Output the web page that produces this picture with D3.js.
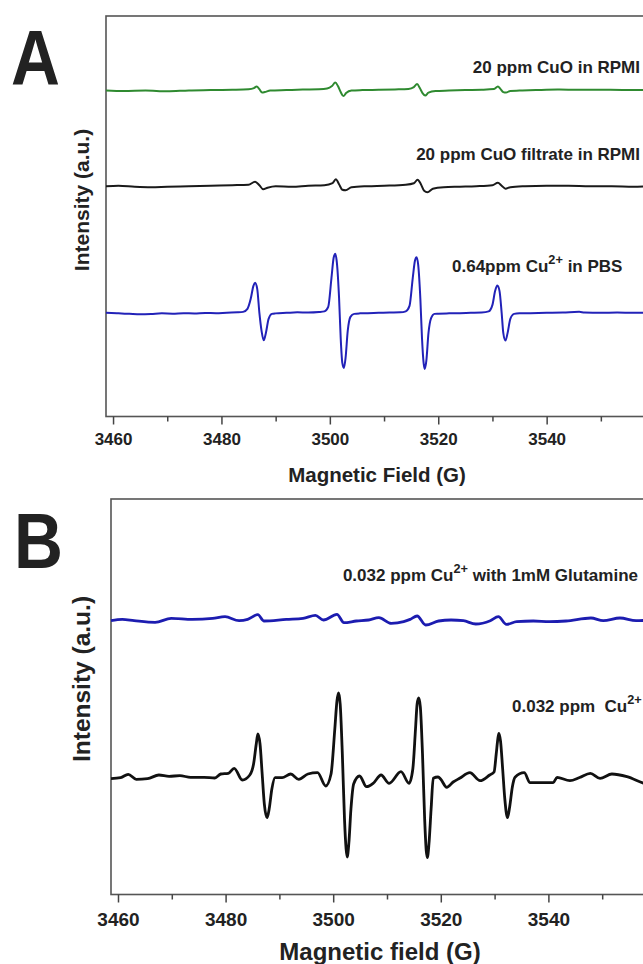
<!DOCTYPE html>
<html>
<head>
<meta charset="utf-8">
<script src="https://cdn.jsdelivr.net/npm/d3@7"></script>
<style>
  html, body { margin: 0; padding: 0; background: #fff; overflow: hidden; }
  text { font-family: "Liberation Sans", Arial, sans-serif; font-weight: bold; fill: #222; }
</style>
</head>
<body>
<script>
// field axis (G)
var fieldDomain = [3458.7, 3558.7];
var majorTicks = [3460, 3480, 3500, 3520, 3540];
var minorTicks = [3470, 3490, 3510, 3530, 3550];

// panel A spectra: [field (G), intensity relative to trace baseline (a.u.)]
var cuoRpmi = [
  [3458.7, -0.5], [3462, -1], [3466, -0.5], [3470, -1.2], [3474, -0.3], [3478, 0], [3482, 0.3],
  [3485, 0.8], [3486, 2], [3486.5, 3.5], [3487, 1], [3487.5, -2.5], [3488, -2], [3489, -0.5],
  [3492, 0], [3495, 0.5], [3498, 0.8], [3499.5, 1.5], [3500.4, 4], [3501, 7.5], [3501.5, 4],
  [3502, -2], [3502.5, -6], [3503, -3], [3504, -0.5], [3506, 0], [3509, 0.3], [3512, 0.7],
  [3514.5, 1.2], [3515.5, 3], [3516.1, 6], [3516.6, 2], [3517.1, -3], [3517.6, -5.5], [3518.2, -2.5],
  [3519.5, -1], [3522, -0.5], [3525, 0], [3528, 0.3], [3530.3, 1], [3531, 3.5], [3531.5, 1],
  [3532, -2], [3532.5, -2.5], [3533.3, -0.8], [3535, -0.5], [3538, 0], [3542, 0.5], [3546, 0.3],
  [3550, 0.3], [3554, 0.2], [3558.7, 0]
];
var cuoFiltrate = [
  [3458.7, 0], [3461, 0.5], [3464, -0.5], [3467, -1], [3470, -0.5], [3474, 0], [3478, 0.5],
  [3482, 1], [3485, 1.5], [3486.2, 4.5], [3487, 1], [3487.7, -3], [3488.5, -1.5], [3490, 0],
  [3493, -0.5], [3496, 0.5], [3499, 1], [3500.5, 3], [3501.1, 7], [3501.7, 2], [3502.3, -3.5],
  [3502.9, -4], [3504, -1], [3507, 0], [3510, 0.5], [3514, 1.5], [3515.5, 3], [3516.2, 6.5],
  [3516.8, 2], [3517.4, -4.5], [3518, -6], [3519, -2.5], [3521, -1], [3524, -0.5], [3527, 0],
  [3530, 1], [3531, 3.5], [3531.7, 0.5], [3532.4, -2.5], [3533.3, -1], [3536, 0], [3540, 0.5],
  [3544, 0.5], [3548, 0], [3552, 0], [3556, -0.5], [3558.7, 0]
];
var cuPbs = [
  [3458.7, 0], [3461, -0.5], [3463, -1], [3465, -1.5], [3467, -1.2], [3469, -0.5], [3471, -0.8],
  [3473, -0.3], [3475, -0.6], [3477, -0.2], [3479, -0.3], [3481, 0.2], [3483, 0.5], [3484, 1],
  [3484.8, 4], [3485.4, 14], [3485.9, 27], [3486.2, 30], [3486.6, 24], [3487.0, 0], [3487.4, -18],
  [3487.8, -27.4], [3488.2, -20], [3488.7, -6], [3489.3, -1], [3490, -0.5], [3492, 0], [3494, 0.5],
  [3496, 0.3], [3498, 0.8], [3499, 1.5], [3499.7, 6], [3500.3, 35], [3500.7, 55], [3501.0, 59],
  [3501.3, 50], [3501.7, 15], [3502.0, -25], [3502.3, -50], [3502.6, -55], [3502.9, -45],
  [3503.3, -18], [3503.8, -4], [3504.5, -1], [3505.5, -0.5], [3507, -0.3], [3509, 0], [3511, 0.3],
  [3513, 0.5], [3514, 1.5], [3514.7, 7], [3515.3, 35], [3515.7, 52], [3516.0, 55.6], [3516.3, 48],
  [3516.7, 14], [3517.0, -25], [3517.3, -50], [3517.5, -56], [3517.8, -48], [3518.2, -20],
  [3518.7, -5], [3519.3, -1], [3520, -0.8], [3522, -0.5], [3524, -0.3], [3526, 0], [3528, 0.3],
  [3529.3, 1.5], [3530, 8], [3530.5, 22], [3530.9, 27.3], [3531.3, 22], [3531.7, 0], [3532.0, -20],
  [3532.4, -27.7], [3532.8, -20], [3533.3, -6], [3534, -1], [3535, -0.5], [3537, -0.3], [3540, 0],
  [3543, 0.3], [3546, 1], [3547, 0.3], [3550, 0], [3553, 0.3], [3556, 0], [3558.7, 0.2]
];

// panel B spectra
var cuGlutamine = [
  [3458.7, 1], [3460.8, 2.3], [3463.0, 1], [3466.9, -0.7], [3469.9, 3.3], [3473.8, 2.3],
  [3477.6, 3.3], [3479.9, 5], [3482.5, 1], [3484.1, 2.3], [3486.0, 7], [3487.1, 0.7], [3491.3, 2.3],
  [3494.4, 3.3], [3496.7, 6.3], [3498.2, 1.7], [3500.7, 7.3], [3502.0, -1], [3504.3, 0.7],
  [3506.6, 1.7], [3508.5, 4], [3510.8, -1.7], [3513.1, 0], [3514.3, 2.3], [3515.6, 5.7],
  [3517.2, -3.3], [3519.6, 0.7], [3521.9, 1.7], [3524.2, 1], [3526.5, -2.3], [3529.2, 1],
  [3530.7, 5], [3532.2, -2.7], [3534.1, 0], [3537.2, 0.7], [3540.2, 0], [3543.3, 0.7],
  [3547.9, 3.7], [3550.2, 1], [3553.3, 3.7], [3556.3, 1], [3558.7, 1.5]
];
var cuLow = [
  [3458.7, 0.3], [3460.5, 1.3], [3461.9, 4.7], [3463.4, -0.3], [3465.5, 0.3], [3467.6, 4],
  [3469.5, 2.7], [3471.5, 3.3], [3473.5, 1.7], [3476, 1.7], [3478, 1], [3479.1, 5], [3480.5, 5.7],
  [3481.6, 10.7], [3483.1, -1], [3484.5, 4], [3485.2, 15], [3485.7, 35], [3486.0, 45], [3486.4, 35],
  [3486.8, 5], [3487.2, -25], [3487.7, -38.7], [3488.1, -30], [3488.6, -10], [3489.2, 1.3],
  [3490.5, 1.3], [3492.1, 5], [3493.6, -0.3], [3495.3, 5], [3497.1, 6.3], [3498.6, -7], [3499.6, 5],
  [3500.3, 50], [3500.7, 78], [3501.0, 86], [3501.3, 75], [3501.7, 25], [3502.1, -40], [3502.4, -70],
  [3502.6, -78], [3502.9, -65], [3503.3, -30], [3503.8, -5], [3504.9, 3], [3506.2, -7.7],
  [3507.5, -4], [3508.9, 4], [3510.4, -4.3], [3512.6, 7.3], [3514.1, -4.3], [3514.8, 10],
  [3515.3, 50], [3515.6, 75], [3515.9, 81], [3516.2, 72], [3516.6, 25], [3517.0, -40], [3517.3, -72],
  [3517.5, -78.7], [3517.8, -65], [3518.2, -30], [3518.6, 0.7], [3519.5, 2], [3520, -0.3],
  [3521.1, -8.3], [3522.3, -3], [3523.5, 0.7], [3525.4, 6.3], [3527.3, -1.7], [3529.1, 4],
  [3529.9, 7], [3530.3, 25], [3530.6, 40], [3530.8, 45.7], [3531.1, 38], [3531.5, 10], [3531.9, -20],
  [3532.4, -38.7], [3532.8, -28], [3533.3, -8], [3533.8, 1.7], [3535.5, 6.3], [3536.6, -3.7],
  [3538.5, -3.7], [3540.9, -3.7], [3541.6, 1.7], [3544.0, -1.7], [3545.8, 1.5], [3547.8, 5.7],
  [3549.6, 0.7], [3551.8, 5], [3554.6, 2.3], [3557.7, -4.3], [3558.7, -6]
];

// baseline offsets of the stacked traces (a.u.)
var offsetsA = [326, 230, 103.5];
var offsetsB = [272.8, 115.5];

var width = 643, height = 964;
var svg = d3.select("body").append("svg")
  .attr("width", width)
  .attr("height", height);

function drawPanel(p) {
  var x = d3.scaleLinear().domain(fieldDomain).range([p.left, p.right]);
  var y = d3.scaleLinear().domain([0, p.yMax]).range([p.bottom, p.top]);
  var g = svg.append("g");

  // frame
  g.append("rect")
    .attr("x", p.left).attr("y", p.top)
    .attr("width", p.right - p.left).attr("height", p.bottom - p.top)
    .attr("fill", "none").attr("stroke", "#555").attr("stroke-width", 1.6);

  // minor ticks first, then major with labels
  var minorAxis = d3.axisBottom(x).tickValues(minorTicks).tickSize(5).tickFormat("");
  var majorAxis = d3.axisBottom(x).tickValues(majorTicks).tickSize(8)
    .tickPadding(p.tickPad).tickFormat(d3.format("d"));

  [minorAxis, majorAxis].forEach(function(ax) {
    var a = g.append("g")
      .attr("transform", "translate(0," + p.bottom + ")")
      .call(ax);
    a.select(".domain").remove();
    a.selectAll("line").attr("stroke", "#444").attr("stroke-width", 1.5);
    a.selectAll("text")
      .attr("font-size", p.tickFont)
      .attr("font-family", "Liberation Sans, Arial, sans-serif")
      .attr("font-weight", "bold")
      .attr("fill", "#222");
  });

  var line = d3.line()
    .x(function(d) { return x(d[0]); })
    .curve(d3.curveMonotoneX);

  p.traces.forEach(function(t) {
    line.y(function(d) { return y(d[1] + t.offset); });
    g.append("path")
      .datum(t.data)
      .attr("fill", "none")
      .attr("stroke", t.color)
      .attr("stroke-width", p.lineWidth)
      .attr("stroke-linejoin", "round")
      .attr("d", line);
  });

  // trace labels
  p.labels.forEach(function(l) {
    var txt = g.append("text")
      .attr("x", l.x).attr("y", l.y)
      .attr("text-anchor", l.anchor || "start")
      .attr("font-size", p.labelFont);
    l.parts.forEach(function(part) {
      if (part.sup) {
        txt.append("tspan").attr("dy", -p.labelFont * 0.5)
          .attr("font-size", p.labelFont * 0.75).text(part.sup);
        txt.append("tspan").attr("dy", p.labelFont * 0.5).text("\u00a0");
      } else {
        txt.append("tspan").text(part.t);
      }
    });
  });

  // axis titles
  g.append("text")
    .attr("x", p.xTitleX).attr("y", p.xTitleY)
    .attr("text-anchor", "middle")
    .attr("font-size", p.titleFont)
    .text(p.xTitle);

  g.append("text")
    .attr("transform", "translate(" + p.yTitleX + "," + p.yTitleY + ") rotate(-90)")
    .attr("text-anchor", "middle")
    .attr("font-size", p.yTitleFont)
    .text("Intensity (a.u.)");

  // panel letter
  g.append("text")
    .attr("transform", "translate(" + p.letterX + "," + p.letterY + ") scale(0.88,1)")
    .attr("font-size", 77)
    .attr("fill", "#000")
    .text(p.letter);
}

drawPanel({
  letter: "A", letterX: 11, letterY: 85,
  left: 106, right: 648, top: 16, bottom: 416.5, yMax: 400,
  tickFont: 17, tickPad: 8.5, titleFont: 20.5, yTitleFont: 21, labelFont: 17, lineWidth: 2,
  xTitle: "Magnetic Field (G)", xTitleX: 377, xTitleY: 482,
  yTitleX: 89, yTitleY: 200,
  traces: [
    { data: cuoRpmi, offset: offsetsA[0], color: "#2f8a30" },
    { data: cuoFiltrate, offset: offsetsA[1], color: "#1a1a1a" },
    { data: cuPbs, offset: offsetsA[2], color: "#2222b8" }
  ],
  labels: [
    { x: 640, y: 73, anchor: "end", parts: [{ t: "20 ppm CuO in RPMI" }] },
    { x: 640, y: 160, anchor: "end", parts: [{ t: "20 ppm CuO filtrate in RPMI" }] },
    { x: 452, y: 272, parts: [{ t: "0.64ppm Cu" }, { sup: "2+" }, { t: "in PBS" }] }
  ]
});

drawPanel({
  letter: "B", letterX: 14, letterY: 568,
  left: 111, right: 649, top: 499, bottom: 894.5, yMax: 395.5,
  tickFont: 19, tickPad: 9.7, titleFont: 24, yTitleFont: 24.5, labelFont: 17, lineWidth: 2.8,
  xTitle: "Magnetic field (G)", xTitleX: 380, xTitleY: 960,
  yTitleX: 90, yTitleY: 679,
  traces: [
    { data: cuGlutamine, offset: offsetsB[0], color: "#1c1cb0" },
    { data: cuLow, offset: offsetsB[1], color: "#111" }
  ],
  labels: [
    { x: 638, y: 581, anchor: "end", parts: [{ t: "0.032 ppm Cu" }, { sup: "2+" }, { t: "with 1mM Glutamine" }] },
    { x: 512, y: 712, parts: [{ t: "0.032 ppm\u00a0\u00a0Cu" }, { sup: "2+" }] }
  ]
});
</script>
</body>
</html>
